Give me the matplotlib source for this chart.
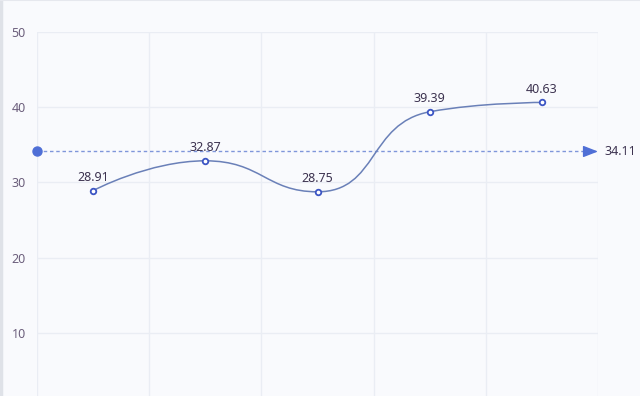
import numpy as np
import matplotlib
matplotlib.use("Agg")
import matplotlib.pyplot as plt
from matplotlib.path import Path
from matplotlib.patches import PathPatch

plt.rcParams["font.family"] = ["Noto Sans", "DejaVu Sans"]

# ── Data ─────────────────────────────────────────────────────────────────────
categories = ["A", "B", "C", "D", "E"]
values = [28.91, 32.87, 28.75, 39.39, 40.63]
y_ticks = [10, 20, 30, 40, 50]

mean_val = round(sum(values) / len(values), 2)   # 34.11

BG = "#f9fafd"
GRID = "#eaedf4"
LINE = "#6a80b8"
MARK = "#3c55c4"
MEAN = "#7f96da"
MEAN_MARK = "#4f6fd6"
TEXT = "#3d3350"
AXTXT = "#6c5f7c"


# ── ECharts-style smooth bezier (control points clamped to segment box) ──────
def smooth_path(xs, ys, sx, sy, smooth=0.5):
    px = [x * sx for x in xs]
    py = [y * sy for y in ys]
    n = len(px)
    cp_out = [(px[0], py[0])] + [None] * (n - 1)
    cp_in = [None] * (n - 1) + [(px[-1], py[-1])]
    for i in range(1, n - 1):
        x0, y0 = px[i - 1], py[i - 1]
        x, y = px[i], py[i]
        x1, y1 = px[i + 1], py[i + 1]
        vx, vy = x1 - x0, y1 - y0
        l0 = np.hypot(x - x0, y - y0)
        l1 = np.hypot(x1 - x, y1 - y)
        r = l1 / (l0 + l1)
        nx = x + vx * smooth * r
        ny = y + vy * smooth * r
        nx = min(max(nx, min(x1, x)), max(x1, x))
        ny = min(max(ny, min(y1, y)), max(y1, y))
        vx, vy = nx - x, ny - y
        cx = x - vx * l0 / l1
        cy = y - vy * l0 / l1
        cx = min(max(cx, min(x0, x)), max(x0, x))
        cy = min(max(cy, min(y0, y)), max(y0, y))
        vx, vy = x - cx, y - cy
        nx = x + vx * l1 / l0
        ny = y + vy * l1 / l0
        cp_in[i] = (cx, cy)
        cp_out[i] = (nx, ny)
    verts = [(px[0], py[0])]
    codes = [Path.MOVETO]
    for i in range(1, n):
        verts += [cp_out[i - 1], cp_in[i], (px[i], py[i])]
        codes += [Path.CURVE4] * 3
    verts = [(vx_ / sx, vy_ / sy) for vx_, vy_ in verts]
    return Path(verts, codes)


# ── Figure ───────────────────────────────────────────────────────────────────
fig = plt.figure(figsize=(6.4, 3.96), dpi=100, facecolor=BG)
ax = fig.add_axes([37 / 640, (396 - 408) / 396, 561 / 640, 376 / 396])
ax.set_facecolor(BG)

x = np.arange(len(categories))
ax.set_xlim(-0.5, len(categories) - 0.5)
ax.set_ylim(0, 50)

for sp in ax.spines.values():
    sp.set_visible(False)

ax.set_yticks(y_ticks)
ax.set_yticklabels([str(t) for t in y_ticks])
ax.tick_params(axis="y", length=0, pad=8, labelsize=9, labelcolor=AXTXT)
ax.set_xticks([])
for t in y_ticks:
    ax.axhline(t, color=GRID, lw=1, zorder=0)
for b in np.arange(-0.5, len(categories), 1.0):
    ax.axvline(b, color=GRID, lw=1, zorder=0)

# smooth series line
path = smooth_path(list(x), values, 112.2, 7.52)
ax.add_patch(PathPatch(path, facecolor="none", edgecolor=LINE, lw=1.1, zorder=3))
ax.plot(x, values, "o", ms=4, mfc="white", mec=MARK, mew=1.3, zorder=4)
for xi, v in zip(x, values):
    ax.annotate(f"{v:.2f}", (xi, v), xytext=(0, 5), textcoords="offset points",
                ha="center", va="bottom", fontsize=9, color=TEXT, zorder=5)

# mean line
ax.plot([-0.5, len(categories) - 0.62], [mean_val, mean_val], ls=(0, (2.5, 2)),
        color=MEAN, lw=1, zorder=2)
ax.plot([-0.5], [mean_val], "o", ms=6.5, color=MEAN_MARK, clip_on=False, zorder=4)
ax.annotate("", xy=(len(categories) - 0.5, mean_val),
            xytext=(len(categories) - 0.63, mean_val),
            arrowprops=dict(arrowstyle="-|>,head_length=0.9,head_width=0.35",
                            color=MEAN_MARK, lw=1, shrinkA=0, shrinkB=0),
            annotation_clip=False, zorder=4)
ax.annotate(f"{mean_val:.2f}", (len(categories) - 0.5, mean_val),
            xytext=(5, 0), textcoords="offset points", ha="left", va="center",
            fontsize=9, color=TEXT, annotation_clip=False)

# frame edges of the screenshot
fig.add_artist(plt.Line2D([0.001, 0.001], [0, 1], color="#dfe2e8", lw=2.5))
fig.add_artist(plt.Line2D([0, 1], [0.999, 0.999], color="#e6e8ee", lw=1.5))

fig.savefig("out.png", dpi=100, facecolor=BG)
